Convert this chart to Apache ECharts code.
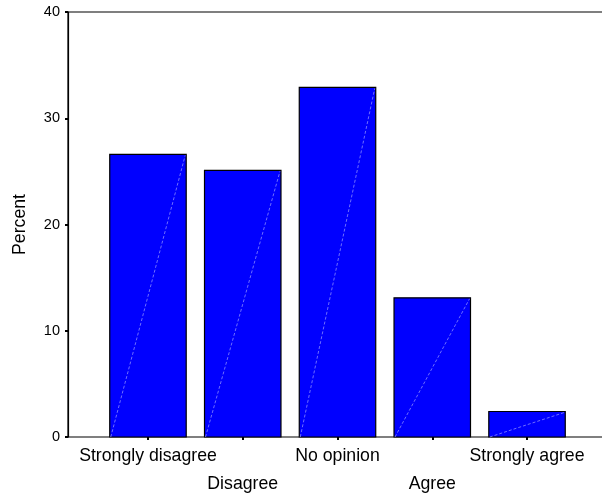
<!DOCTYPE html>
<html>
<head>
<meta charset="utf-8">
<script src="https://cdn.jsdelivr.net/npm/echarts@6/dist/echarts.min.js"></script>
<style>
html,body{margin:0;padding:0;background:#fff;}
#chart{width:602px;height:496px;}
</style>
</head>
<body>
<div id="chart"></div>
<script>
const categories = ['Strongly disagree', 'Disagree', 'No opinion', 'Agree', 'Strongly agree'];
const percents = [26.6, 25.1, 32.9, 13.1, 2.4];
const yAxisTitle = 'Percent';

const chart = echarts.init(document.getElementById('chart'), null, {renderer: 'canvas'});
const FONT = 'Liberation Sans, Arial, sans-serif';

const option = {
  backgroundColor: '#fff',
  animation: false,
  grid: [
    {left: 68, right: -10, top: 12, bottom: 59, show: true, borderColor: '#000', borderWidth: 1.2, backgroundColor: 'transparent', outerBoundsMode: 'none', containLabel: false},
    {left: 100.6, right: 27.6, top: 12, bottom: 59, outerBoundsMode: 'none', containLabel: false}
  ],
  xAxis: [
    {gridIndex: 0, type: 'value', show: false, min: 0, max: 1},
    {
      gridIndex: 1, type: 'category', data: categories, boundaryGap: true,
      axisLine: {show: false},
      axisTick: {show: true, alignWithLabel: true, length: 3, lineStyle: {color: '#000', width: 2}},
      axisLabel: {
        interval: 0, hideOverlap: false, margin: 5,
        color: '#000', fontFamily: FONT, fontSize: 17.7, lineHeight: 28,
        formatter: function (v, i) { return i % 2 ? '\n' + v : v; }
      },
      splitLine: {show: false}
    }
  ],
  yAxis: [
    {
      gridIndex: 0, type: 'value', min: 0, max: 40, interval: 10,
      name: yAxisTitle, nameLocation: 'middle', nameGap: 39, nameRotate: 90,
      nameTextStyle: {color: '#000', fontFamily: FONT, fontSize: 17.7},
      axisLine: {show: true, lineStyle: {color: '#000', width: 1.2}},
      axisTick: {show: true, length: 3, lineStyle: {color: '#000', width: 2}},
      axisLabel: {color: '#000', fontFamily: FONT, fontSize: 14.5, margin: 8},
      splitLine: {show: false}
    },
    {gridIndex: 1, type: 'value', min: 0, max: 40, show: false, splitLine: {show: false}}
  ],
  series: [{
    type: 'custom',
    xAxisIndex: 1, yAxisIndex: 1,
    data: percents.map((v, i) => [i, v]),
    renderItem: function (params, api) {
      const i = api.value(0), v = api.value(1);
      const base = api.coord([i, 0]);
      const top = api.coord([i, v]);
      const w = api.size([1, 0])[0] * 0.807;
      const x0 = base[0] - w / 2, x1 = base[0] + w / 2;
      return {
        type: 'group',
        children: [
          {type: 'rect', shape: {x: x0, y: top[1], width: w, height: base[1] - top[1]},
           style: {fill: '#0000ff', stroke: '#000', lineWidth: 1.2}},
          {type: 'line', shape: {x1: x0 + 1, y1: base[1], x2: x1 - 1, y2: top[1] + 1},
           style: {stroke: '#8a8aff', lineWidth: 0.8, lineDash: [3, 2]}}
        ]
      };
    }
  }]
};
chart.setOption(option);
</script>
</body>
</html>
